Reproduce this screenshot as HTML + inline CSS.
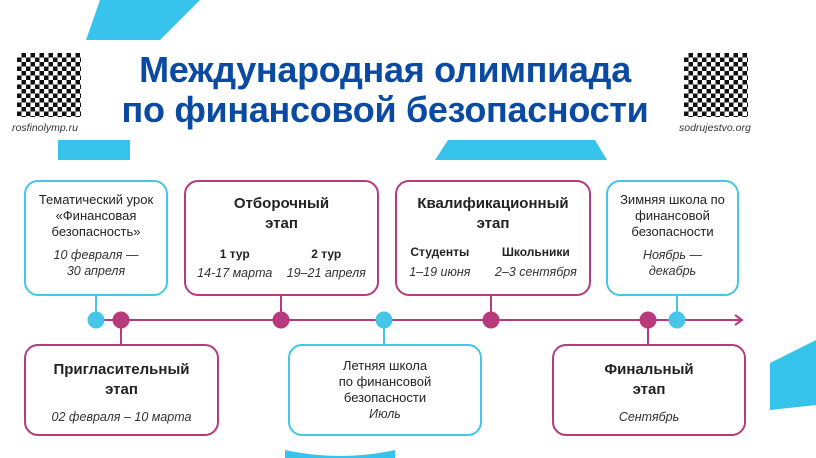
<!DOCTYPE html><html><head><meta charset="utf-8"><style>
body{margin:0;width:816px;height:458px;background:#fff;position:relative;overflow:hidden;font-family:"Liberation Sans",sans-serif}
.a{position:absolute}
.b{position:absolute;border:2px solid;border-radius:14px;box-sizing:border-box;text-align:center;color:#222}
.c{border-color:#45c6e8}.m{border-color:#b73a7c}
.t{font-weight:bold;font-size:15px;line-height:20px}
.n{font-size:13px;line-height:16px}
.i{font-style:italic;font-size:12.5px;line-height:16px;color:#333}
.qr{position:absolute;width:64px;height:64px}
</style></head><body>
<svg class="a" style="left:0;top:0" width="816" height="458">
<polygon points="100,0 200,0 160,40 86,40" fill="#36c3ec"/>
<polygon points="58,140 130,140 130,160 58,160" fill="#36c3ec"/>
<polygon points="448,140 595,140 607,160 435,160" fill="#36c3ec"/>
<polygon points="770,363 816,340 816,405 770,410" fill="#36c3ec"/>
<path d="M285,450 Q340,462 395,450 L395,458 L285,458Z" fill="#36c3ec"/>
<g stroke-width="2">
<line x1="96" y1="320" x2="742" y2="320" stroke="#b73a7c"/>
<polyline points="735,315 742,320 735,325" fill="none" stroke="#b73a7c"/>
<line x1="96" y1="295" x2="96" y2="320" stroke="#45c6e8"/>
<line x1="121" y1="320" x2="121" y2="344" stroke="#b73a7c"/>
<line x1="281" y1="295" x2="281" y2="320" stroke="#b73a7c"/>
<line x1="384" y1="320" x2="384" y2="344" stroke="#45c6e8"/>
<line x1="491" y1="295" x2="491" y2="320" stroke="#b73a7c"/>
<line x1="648" y1="320" x2="648" y2="344" stroke="#b73a7c"/>
<line x1="677" y1="295" x2="677" y2="320" stroke="#45c6e8"/>
</g>
<g><circle cx="96" cy="320" r="8.5" fill="#45c6e8"/><circle cx="121" cy="320" r="8.5" fill="#b73a7c"/><circle cx="281" cy="320" r="8.5" fill="#b73a7c"/><circle cx="384" cy="320" r="8.5" fill="#45c6e8"/><circle cx="491" cy="320" r="8.5" fill="#b73a7c"/><circle cx="648" cy="320" r="8.5" fill="#b73a7c"/><circle cx="677" cy="320" r="8.5" fill="#45c6e8"/></g>
</svg>
<div class="qr" style="left:17px;top:53px;background:repeating-conic-gradient(#111 0 25%,#fff 0 50%) 0 0/9px 9px"></div>
<div class="qr" style="left:684px;top:53px;background:repeating-conic-gradient(#111 0 25%,#fff 0 50%) 0 0/9px 9px"></div>
<div class="a" style="left:12px;top:122px;font-size:10.5px;font-style:italic;color:#333">rosfinolymp.ru</div>
<div class="a" style="left:679px;top:122px;font-size:10.5px;font-style:italic;color:#333">sodrujestvo.org</div>
<div class="a" style="left:90px;top:50px;width:590px;text-align:center;color:#0b4aa3;font-weight:bold;font-size:36px;line-height:40px;letter-spacing:-0.3px">Международная олимпиада<br>по финансовой безопасности</div>

<div class="b c" style="left:24px;top:180px;width:144px;height:116px;padding-top:10px"><div class="n">Тематический урок «Финансовая безопасность»</div><div class="i" style="margin-top:7px">10 февраля —<br>30 апреля</div></div>
<div class="b m" style="left:184px;top:180px;width:195px;height:116px;padding-top:12px"><div class="t">Отборочный<br>этап</div>
<div style="display:flex;justify-content:space-around;margin-top:12px;padding:0 4px"><div><div style="font-weight:bold;font-size:12px;line-height:16px">1 тур</div><div class="i" style="margin-top:3px">14-17 марта</div></div><div><div style="font-weight:bold;font-size:12px;line-height:16px">2 тур</div><div class="i" style="margin-top:3px">19–21 апреля</div></div></div></div>
<div class="b m" style="left:395px;top:180px;width:196px;height:116px;padding-top:12px"><div class="t">Квалификационный<br>этап</div>
<div style="display:flex;justify-content:space-around;margin-top:10px"><div><div style="font-weight:bold;font-size:12px;line-height:16px">Студенты</div><div class="i" style="margin-top:4px">1–19 июня</div></div><div><div style="font-weight:bold;font-size:12px;line-height:16px">Школьники</div><div class="i" style="margin-top:4px">2–3 сентября</div></div></div></div>
<div class="b c" style="left:606px;top:180px;width:133px;height:116px;padding-top:10px"><div class="n">Зимняя школа по финансовой безопасности</div><div class="i" style="margin-top:7px">Ноябрь —<br>декабрь</div></div>

<div class="b m" style="left:24px;top:344px;width:195px;height:92px;padding-top:14px"><div class="t">Пригласительный<br>этап</div><div class="i" style="margin-top:9px">02 февраля – 10 марта</div></div>
<div class="b c" style="left:288px;top:344px;width:194px;height:92px;padding-top:12px"><div class="n">Летняя школа<br>по финансовой<br>безопасности</div><div class="i">Июль</div></div>
<div class="b m" style="left:552px;top:344px;width:194px;height:92px;padding-top:14px"><div class="t">Финальный<br>этап</div><div class="i" style="margin-top:9px">Сентябрь</div></div>
</body></html>
